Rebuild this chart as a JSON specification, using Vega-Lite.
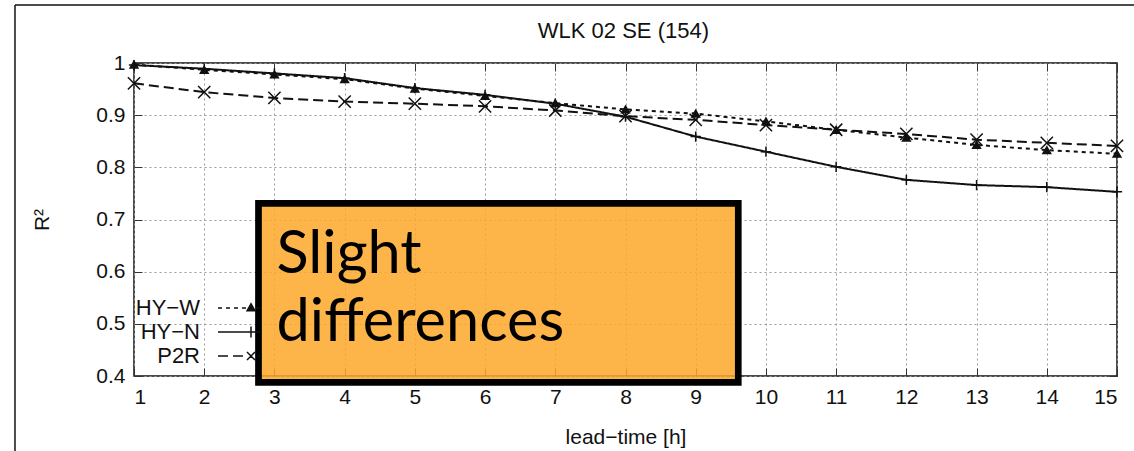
{
  "$schema": "https://vega.github.io/schema/vega-lite/v6.json",
  "width": 983,
  "height": 313,
  "autosize": {"type": "none"},
  "padding": {"left": 134, "top": 63, "right": 17, "bottom": 75},
  "background": "white",
  "config": {
    "view": {"stroke": "#111111", "strokeWidth": 1.5},
    "axis": {
      "labelFont": "Liberation Sans",
      "labelFontSize": 21,
      "labelColor": "#111111",
      "titleFont": "Liberation Sans",
      "titleFontSize": 21,
      "titleFontWeight": "normal",
      "titleColor": "#111111",
      "domain": false,
      "tickColor": "#333333",
      "tickSize": -8,
      "tickWidth": 1,
      "gridColor": "#9a9a9a",
      "gridDash": [2, 3],
      "gridWidth": 1
    }
  },
  "datasets": {
    "r2": [
      {"series": "HY-W", "lead": 1, "r2": 0.997},
      {"series": "HY-W", "lead": 2, "r2": 0.987},
      {"series": "HY-W", "lead": 3, "r2": 0.978},
      {"series": "HY-W", "lead": 4, "r2": 0.969},
      {"series": "HY-W", "lead": 5, "r2": 0.951},
      {"series": "HY-W", "lead": 6, "r2": 0.937},
      {"series": "HY-W", "lead": 7, "r2": 0.923},
      {"series": "HY-W", "lead": 8, "r2": 0.911},
      {"series": "HY-W", "lead": 9, "r2": 0.903},
      {"series": "HY-W", "lead": 10, "r2": 0.888},
      {"series": "HY-W", "lead": 11, "r2": 0.872},
      {"series": "HY-W", "lead": 12, "r2": 0.857},
      {"series": "HY-W", "lead": 13, "r2": 0.843},
      {"series": "HY-W", "lead": 14, "r2": 0.833},
      {"series": "HY-W", "lead": 15, "r2": 0.826},
      {"series": "HY-N", "lead": 1, "r2": 0.996},
      {"series": "HY-N", "lead": 2, "r2": 0.989},
      {"series": "HY-N", "lead": 3, "r2": 0.98},
      {"series": "HY-N", "lead": 4, "r2": 0.971},
      {"series": "HY-N", "lead": 5, "r2": 0.952},
      {"series": "HY-N", "lead": 6, "r2": 0.939},
      {"series": "HY-N", "lead": 7, "r2": 0.922},
      {"series": "HY-N", "lead": 8, "r2": 0.897},
      {"series": "HY-N", "lead": 9, "r2": 0.859},
      {"series": "HY-N", "lead": 10, "r2": 0.83},
      {"series": "HY-N", "lead": 11, "r2": 0.801},
      {"series": "HY-N", "lead": 12, "r2": 0.776},
      {"series": "HY-N", "lead": 13, "r2": 0.766},
      {"series": "HY-N", "lead": 14, "r2": 0.762},
      {"series": "HY-N", "lead": 15, "r2": 0.753},
      {"series": "P2R", "lead": 1, "r2": 0.961},
      {"series": "P2R", "lead": 2, "r2": 0.944},
      {"series": "P2R", "lead": 3, "r2": 0.933},
      {"series": "P2R", "lead": 4, "r2": 0.926},
      {"series": "P2R", "lead": 5, "r2": 0.922},
      {"series": "P2R", "lead": 6, "r2": 0.917},
      {"series": "P2R", "lead": 7, "r2": 0.909},
      {"series": "P2R", "lead": 8, "r2": 0.898},
      {"series": "P2R", "lead": 9, "r2": 0.891},
      {"series": "P2R", "lead": 10, "r2": 0.881},
      {"series": "P2R", "lead": 11, "r2": 0.872},
      {"series": "P2R", "lead": 12, "r2": 0.864},
      {"series": "P2R", "lead": 13, "r2": 0.853},
      {"series": "P2R", "lead": 14, "r2": 0.847},
      {"series": "P2R", "lead": 15, "r2": 0.841}
    ]
  },
  "data": {"name": "r2"},
  "layer": [
    {
      "mark": {"type": "line", "color": "#111111", "strokeWidth": 2},
      "encoding": {
        "x": {
          "field": "lead", "type": "quantitative",
          "scale": {"domain": [1, 15], "nice": false, "zero": false},
          "axis": {
            "orient": "bottom", "title": "lead−time [h]", "grid": true,
            "values": [1, 2, 3, 4, 5, 6, 7, 8, 9, 10, 11, 12, 13, 14, 15],
            "labelPadding": 18, "titlePadding": 19
          }
        },
        "y": {
          "field": "r2", "type": "quantitative",
          "scale": {"domain": [0.4, 1], "nice": false, "zero": false},
          "axis": {
            "orient": "left", "title": "R²", "grid": true,
            "values": [0.4, 0.5, 0.6, 0.7, 0.8, 0.9, 1],
            "format": ".1~f", "labelPadding": 17, "titlePadding": 43
          }
        },
        "strokeDash": {
          "field": "series", "type": "nominal",
          "scale": {"domain": ["HY-W", "HY-N", "P2R"], "range": [[4, 4], [1, 0], [10, 5]]},
          "legend": null
        }
      }
    },
    {
      "mark": {"type": "point", "fill": "#111111", "stroke": "#111111", "strokeWidth": 1.5, "opacity": 1},
      "encoding": {
        "x": {"field": "lead", "type": "quantitative", "scale": {"domain": [1, 15], "nice": false, "zero": false}, "axis": null},
        "y": {"field": "r2", "type": "quantitative", "scale": {"domain": [0.4, 1], "nice": false, "zero": false}, "axis": null},
        "shape": {
          "field": "series", "type": "nominal",
          "scale": {"domain": ["HY-W", "HY-N", "P2R"], "range": ["triangle-up", "M-1,0H1M0,-1V1", "M-1,-1L1,1M1,-1L-1,1"]},
          "legend": null
        },
        "size": {
          "field": "series", "type": "ordinal",
          "scale": {"domain": ["HY-W", "HY-N", "P2R"], "range": [60, 150, 100]},
          "legend": null
        }
      }
    },
    {
      "mark": {"type": "point", "opacity": 0},
      "encoding": {
        "x": {"field": "lead", "type": "quantitative", "scale": {"domain": [1, 15], "nice": false, "zero": false}, "axis": null},
        "y": {"field": "r2", "type": "quantitative", "scale": {"domain": [0.4, 1], "nice": false, "zero": false}, "axis": null},
        "shape": {
          "field": "series", "type": "nominal",
          "scale": {
            "domain": ["HY-W", "HY-N", "P2R"],
            "range": [
              "M-6.6,0H-5.8M-5,0H-4.2M-3.4,0H-2.6M-1.8,0H-1M1,0H1.8M-0.8,0.55L0,-0.85L0.8,0.55ZM-0.45,0.35L0,-0.4L0.45,0.35ZM0,-0.6V0.5",
              "M-6.6,0H2.2M0,-1.1V1.1",
              "M-6.6,0H-4.6M-3.6,0H-1.6M1.4,0H2.2M-0.8,-0.8L0.8,0.8M0.8,-0.8L-0.8,0.8"
            ]
          },
          "legend": {
            "orient": "none", "legendX": 106, "legendY": 234,
            "title": null, "padding": 0,
            "symbolSize": 100, "symbolStrokeWidth": 1.5,
            "symbolStrokeColor": "#111111", "symbolFillColor": "#111111", "symbolOpacity": 1,
            "labelOffset": -62, "labelAlign": "right",
            "labelFont": "Liberation Sans", "labelFontSize": 22, "labelColor": "#111111",
            "rowPadding": 2,
            "labelExpr": "replace(datum.label, '-', '−')"
          }
        }
      }
    },
    {
      "mark": {"type": "point", "opacity": 0},
      "encoding": {
        "x": {
          "field": "lead", "type": "quantitative",
          "scale": {"domain": [1, 15], "nice": false, "zero": false},
          "axis": {"orient": "top", "title": null, "labels": false, "grid": false, "values": [1, 2, 3, 4, 5, 6, 7, 8, 9, 10, 11, 12, 13, 14, 15]}
        },
        "y": {
          "field": "r2", "type": "quantitative",
          "scale": {"domain": [0.4, 1], "nice": false, "zero": false},
          "axis": {"orient": "right", "title": null, "labels": false, "grid": false, "values": [0.4, 0.5, 0.6, 0.7, 0.8, 0.9, 1]}
        }
      }
    },
    {
      "data": {"values": [{"frame": "figure"}]},
      "mark": {"type": "rule", "color": "#111111", "strokeWidth": 1.5},
      "encoding": {
        "x": {"datum": -0.695, "type": "quantitative", "scale": {"domain": [1, 15], "nice": false, "zero": false}, "axis": null},
        "y": {"datum": 1.111, "type": "quantitative", "scale": {"domain": [0.4, 1], "nice": false, "zero": false}, "axis": null},
        "y2": {"datum": 0.2}
      }
    },
    {
      "data": {"values": [{"frame": "figure"}]},
      "mark": {"type": "rule", "color": "#111111", "strokeWidth": 1.5},
      "encoding": {
        "x": {"datum": -0.695, "type": "quantitative", "scale": {"domain": [1, 15], "nice": false, "zero": false}, "axis": null},
        "x2": {"datum": 15.4},
        "y": {"datum": 1.111, "type": "quantitative", "scale": {"domain": [0.4, 1], "nice": false, "zero": false}, "axis": null}
      }
    },
    {
      "data": {"values": [{"heading": "WLK 02 SE (154)"}]},
      "mark": {"type": "text", "font": "Liberation Sans", "fontSize": 22, "color": "#111111", "align": "center", "baseline": "middle"},
      "encoding": {
        "x": {"datum": 7.97, "type": "quantitative", "scale": {"domain": [1, 15], "nice": false, "zero": false}, "axis": null},
        "y": {"datum": 1.0613, "type": "quantitative", "scale": {"domain": [0.4, 1], "nice": false, "zero": false}, "axis": null},
        "text": {"field": "heading"}
      }
    },
    {
      "data": {"values": [{"note": "Slight\ndifferences"}]},
      "layer": [
        {
          "mark": {"type": "rect", "fill": "#fda82a", "fillOpacity": 0.85, "stroke": "#000000", "strokeWidth": 6.7},
          "encoding": {
            "x": {"datum": 2.773, "type": "quantitative", "scale": {"domain": [1, 15], "nice": false, "zero": false}, "axis": null},
            "x2": {"datum": 9.606},
            "y": {"datum": 0.7311, "type": "quantitative", "scale": {"domain": [0.4, 1], "nice": false, "zero": false}, "axis": null},
            "y2": {"datum": 0.3879}
          }
        },
        {
          "mark": {"type": "text", "font": "Lato", "fontSize": 59.5, "color": "#000000", "align": "left", "baseline": "alphabetic", "lineBreak": "\n", "lineHeight": 68},
          "encoding": {
            "x": {"datum": 3.03, "type": "quantitative", "scale": {"domain": [1, 15], "nice": false, "zero": false}, "axis": null},
            "y": {"datum": 0.5969, "type": "quantitative", "scale": {"domain": [0.4, 1], "nice": false, "zero": false}, "axis": null},
            "text": {"field": "note"}
          }
        }
      ]
    }
  ],
  "resolve": {
    "axis": {"x": "independent", "y": "independent"},
    "scale": {"shape": "independent"}
  }
}
